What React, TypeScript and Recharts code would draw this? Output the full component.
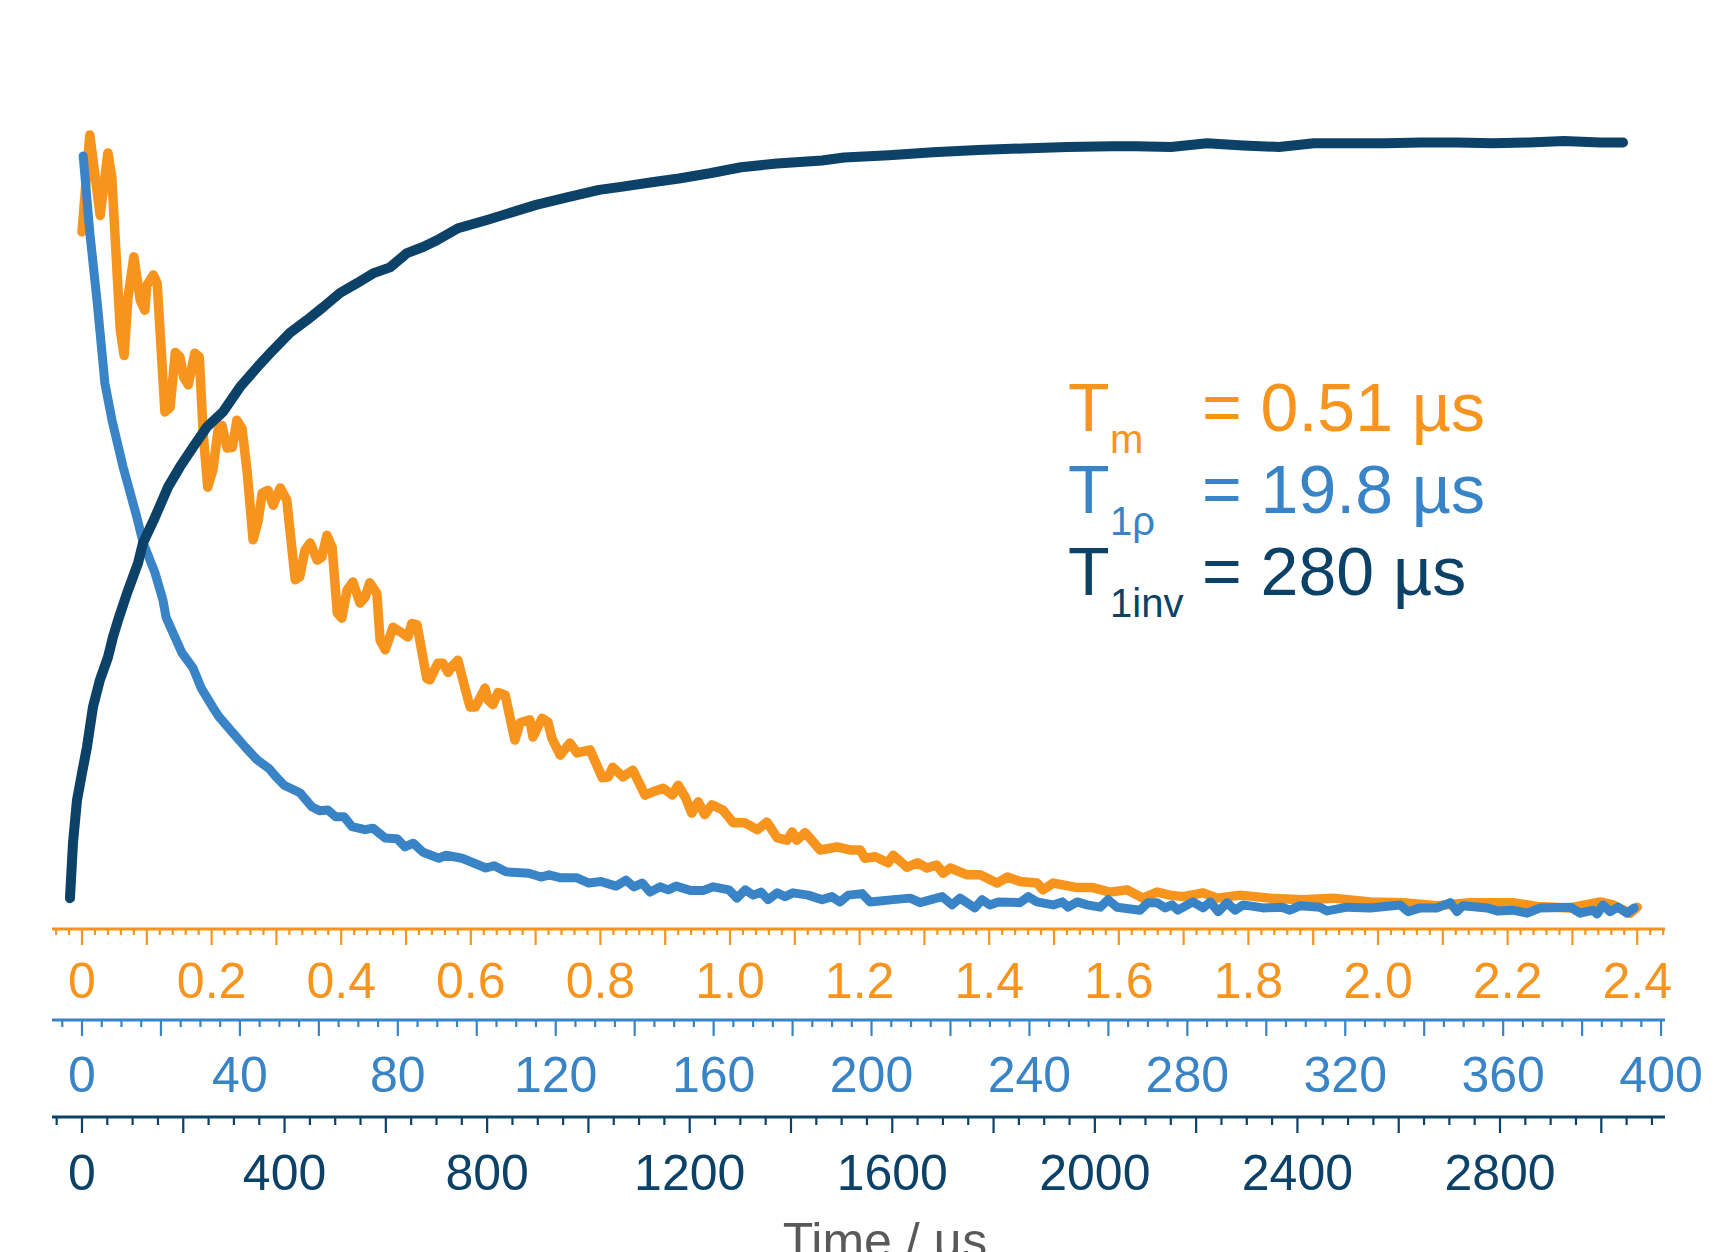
import React from "react";
import { LineChart, Line, XAxis, YAxis } from "recharts";

// page has an 8px default margin, drop it so the chart sits at 0,0
if (typeof document !== "undefined") document.body.style.margin = "0";

const ORANGE = "#F7941D";
const BLUE = "#3884C6";
const NAVY = "#0C4168";
const FONT = "'Liberation Sans', Arial, sans-serif";

// Tm decay (µs)
const tmTime = [
  0, 0.012, 0.028, 0.04, 0.046, 0.059, 0.065, 0.071, 0.08, 0.09, 0.097, 0.1, 0.11, 0.116,
  0.128, 0.136, 0.144, 0.151, 0.157, 0.164, 0.174, 0.181, 0.187, 0.194, 0.202, 0.21, 0.216,
  0.224, 0.232, 0.239, 0.247, 0.255, 0.264, 0.272, 0.278, 0.287, 0.295, 0.306, 0.316, 0.329,
  0.336, 0.344, 0.352, 0.363, 0.37, 0.378, 0.386, 0.394, 0.401, 0.409, 0.418, 0.429, 0.437,
  0.444, 0.455, 0.46, 0.468, 0.48, 0.491, 0.503, 0.509, 0.517, 0.532, 0.537, 0.549, 0.557,
  0.565, 0.573, 0.58, 0.591, 0.599, 0.607, 0.622, 0.627, 0.634, 0.642, 0.653, 0.668, 0.676,
  0.691, 0.696, 0.71, 0.719, 0.725, 0.738, 0.753, 0.764, 0.784, 0.803, 0.812, 0.819, 0.835,
  0.85, 0.869, 0.88, 0.897, 0.911, 0.92, 0.931, 0.941, 0.951, 0.961, 0.972, 0.989, 1.005,
  1.023, 1.042, 1.057, 1.073, 1.088, 1.096, 1.103, 1.116, 1.139, 1.165, 1.185, 1.201, 1.208,
  1.224, 1.244, 1.252, 1.273, 1.289, 1.304, 1.319, 1.329, 1.34, 1.366, 1.386, 1.412, 1.428,
  1.448, 1.474, 1.483, 1.499, 1.536, 1.56, 1.586, 1.613, 1.637, 1.659, 1.679, 1.699, 1.73,
  1.752, 1.787, 1.833, 1.884, 1.931, 1.988, 2.039, 2.091, 2.142, 2.208, 2.245, 2.296, 2.343,
  2.363, 2.389, 2.4,
];
const tmSignal = [
  0.898, 1.027, 0.92, 1.003, 0.971, 0.768, 0.734, 0.811, 0.865, 0.807, 0.794, 0.827, 0.841,
  0.83, 0.659, 0.665, 0.738, 0.732, 0.705, 0.695, 0.737, 0.732, 0.631, 0.559, 0.582, 0.635,
  0.641, 0.611, 0.612, 0.648, 0.637, 0.578, 0.489, 0.515, 0.551, 0.555, 0.535, 0.558, 0.542,
  0.436, 0.44, 0.475, 0.485, 0.462, 0.466, 0.495, 0.479, 0.392, 0.385, 0.422, 0.433, 0.405,
  0.413, 0.432, 0.418, 0.356, 0.343, 0.373, 0.367, 0.36, 0.378, 0.376, 0.305, 0.303, 0.325,
  0.325, 0.313, 0.323, 0.329, 0.292, 0.267, 0.267, 0.292, 0.276, 0.27, 0.286, 0.283, 0.223,
  0.246, 0.25, 0.227, 0.252, 0.247, 0.226, 0.203, 0.219, 0.206, 0.21, 0.173, 0.174, 0.187,
  0.174, 0.183, 0.15, 0.154, 0.159, 0.15, 0.163, 0.147, 0.126, 0.141, 0.124, 0.137, 0.13,
  0.113, 0.113, 0.104, 0.114, 0.093, 0.09, 0.101, 0.09, 0.1, 0.077, 0.081, 0.077, 0.077,
  0.066, 0.068, 0.06, 0.07, 0.054, 0.06, 0.053, 0.057, 0.046, 0.053, 0.044, 0.044, 0.033,
  0.041, 0.035, 0.033, 0.024, 0.033, 0.027, 0.027, 0.021, 0.024, 0.013, 0.021, 0.017, 0.015,
  0.02, 0.013, 0.017, 0.013, 0.011, 0.013, 0.008, 0.007, 0.003, 0.007, 0.007, 0.002, 0.0,
  0.008, 0.004, -0.007, 0.001,
];

// T1rho decay (µs) - blue trace
const t1rhoTime = [
  0.3, 2.0, 3.8, 5.8, 7.6, 10.4, 13.9, 15.5, 18.5, 20.5, 21.3, 25.3, 28.1, 30.2, 33.2, 34.7,
  38.3, 41.3, 44.3, 47.4, 49.2, 51.2, 55.2, 58.3, 60.3, 62.3, 64.3, 66.4, 68.4, 71.7, 73.7,
  76.8, 79.8, 81.8, 83.9, 86.4, 90.4, 92.2, 96.3, 102.3, 104.4, 107.4, 113.2, 116.3, 118.3,
  121.3, 125.4, 128.4, 131.5, 135.3, 137.8, 139.8, 141.9, 143.9, 146.4, 148.5, 150.5, 154.3,
  157.3, 159.9, 163.9, 165.9, 168.0, 170.0, 172.0, 173.8, 176.1, 178.1, 180.1, 183.9, 187.5,
  190.0, 192.0, 194.1, 197.6, 199.6, 205.5, 209.8, 212.3, 217.9, 220.4, 222.4, 226.2, 228.0,
  230.0, 232.1, 237.6, 239.7, 241.9, 246.0, 248.3, 249.8, 252.1, 254.6, 257.9, 259.9, 262.2,
  268.0, 270.0, 272.3, 274.4, 276.1, 277.6, 281.4, 284.0, 285.8, 287.8, 290.1, 292.1, 294.1,
  299.2, 304.0, 306.0, 308.6, 313.6, 315.4, 320.5, 326.3, 333.9, 335.9, 339.0, 343.3, 346.6,
  348.3, 349.8, 355.9, 358.5, 362.5, 366.1, 369.4, 377.0, 379.5, 382.8, 383.8, 385.3, 387.1,
  389.1, 391.4, 393.2,
];
const t1rhoSignal = [
  0.999, 0.896, 0.807, 0.697, 0.648, 0.586, 0.519, 0.485, 0.445, 0.409, 0.386, 0.339, 0.319,
  0.292, 0.266, 0.254, 0.232, 0.214, 0.197, 0.185, 0.174, 0.163, 0.153, 0.134, 0.129, 0.13,
  0.121, 0.121, 0.108, 0.104, 0.106, 0.093, 0.092, 0.081, 0.086, 0.074, 0.066, 0.07, 0.066,
  0.053, 0.056, 0.048, 0.046, 0.041, 0.044, 0.04, 0.04, 0.033, 0.035, 0.029, 0.037, 0.028,
  0.033, 0.021, 0.028, 0.024, 0.029, 0.023, 0.023, 0.028, 0.024, 0.013, 0.024, 0.017, 0.021,
  0.011, 0.02, 0.015, 0.02, 0.017, 0.011, 0.015, 0.008, 0.017, 0.019, 0.008, 0.011, 0.013,
  0.007, 0.015, 0.004, 0.013, 0.0, 0.011, 0.004, 0.008, 0.007, 0.015, 0.008, 0.004, 0.008,
  0.001, 0.008, 0.004, 0.001, 0.011, 0.001, -0.003, 0.007, 0.007, 0.0, 0.004, -0.003, 0.008,
  0.0, 0.008, -0.005, 0.007, -0.003, 0.004, 0.0, 0.001, -0.003, 0.003, 0.001, -0.004, 0.001,
  0.0, 0.004, -0.005, 0.0, 0.0, 0.007, -0.005, 0.003, 0.0, -0.004, -0.003, -0.007, 0.0, 0.001,
  -0.007, -0.003, -0.008, 0.004, -0.005, 0.001, -0.007, 0.0,
];

// T1 inversion recovery (µs) - navy trace
const t1invTime = [
  -23.7, -17.8, -9.9, 0, 9.9, 21.7, 35.5, 51.3, 61.2, 71.1, 88.9, 110.6, 120.5, 144.1, 169.8,
  193.5, 219.2, 246.8, 278.4, 312.0, 345.6, 377.1, 410.7, 444.3, 475.9, 509.4, 543.0, 574.6,
  608.2, 641.7, 673.3, 701.0, 742.5, 799.7, 843.2, 896.5, 957.7, 1020.9, 1064.3, 1125.5,
  1178.9, 1240.0, 1301.3, 1372.4, 1461.2, 1504.7, 1593.5, 1680.4, 1769.3, 1858.1, 1945.0,
  2033.9, 2081.2, 2150.4, 2221.4, 2292.5, 2363.6, 2432.7, 2503.8, 2574.9, 2644.0, 2715.1,
  2786.2, 2857.3, 2926.4, 2997.5, 3042.9,
];
const t1invSignal = [
  0.013, 0.086, 0.143, 0.179, 0.214, 0.267, 0.303, 0.333, 0.36, 0.382, 0.418, 0.458, 0.485,
  0.519, 0.559, 0.586, 0.612, 0.639, 0.659, 0.692, 0.718, 0.741, 0.764, 0.781, 0.798, 0.817,
  0.83, 0.843, 0.851, 0.87, 0.878, 0.887, 0.903, 0.914, 0.923, 0.934, 0.944, 0.954, 0.958,
  0.964, 0.969, 0.976, 0.984, 0.989, 0.993, 0.997, 1.0, 1.004, 1.007, 1.009, 1.011, 1.012,
  1.012, 1.011, 1.016, 1.013, 1.011, 1.016, 1.016, 1.016, 1.017, 1.017, 1.016, 1.017, 1.019,
  1.017, 1.017,
];

// tick labels for the three time axes
const tmLabelValues = [0, 0.2, 0.4, 0.6, 0.8, 1.0, 1.2, 1.4, 1.6, 1.8, 2.0, 2.2, 2.4];
const tmLabels = ["0", "0.2", "0.4", "0.6", "0.8", "1.0", "1.2", "1.4", "1.6", "1.8", "2.0", "2.2", "2.4"];
const t1rhoLabelValues = [0, 40, 80, 120, 160, 200, 240, 280, 320, 360, 400];
const t1rhoLabels = ["0", "40", "80", "120", "160", "200", "240", "280", "320", "360", "400"];
const t1invLabelValues = [0, 400, 800, 1200, 1600, 2000, 2400, 2800];
const t1invLabels = ["0", "400", "800", "1200", "1600", "2000", "2400", "2800"];

const zip = (xs: number[], ys: number[]) => xs.map((t, i) => ({ t, v: ys[i] }));
const tmData = zip(tmTime, tmSignal);
const t1rhoData = zip(t1rhoTime, t1rhoSignal);
const t1invData = zip(t1invTime, t1invSignal);

// minor tick positions
const steps = (from: number, to: number, step: number) => {
  const out: number[] = [];
  const n = Math.round((to - from) / step);
  for (let i = 0; i <= n; i++) out.push(Number((from + i * step).toFixed(4)));
  return out;
};
const tmTicks = steps(-0.04, 2.44, 0.02);
const t1rhoTicks = steps(-5, 400, 5);
const t1invTicks = steps(-50, 3100, 50);

type TickCfg = {
  color: string;
  labelValues: number[];
  labels: string[];
  major: number;
  minorLen: number;
  majorLen: number;
  dy: number;
};

function makeTick(cfg: TickCfg) {
  return (props: any) => {
    const { x, y, payload } = props;
    const val = payload.value as number;
    const r = val / cfg.major;
    const isMajor = Math.abs(r - Math.round(r)) < 1e-6;
    const idx = cfg.labelValues.findIndex((lv) => Math.abs(lv - val) < 1e-6);
    return (
      <g>
        <line x1={x} x2={x} y1={y} y2={y + (isMajor ? cfg.majorLen : cfg.minorLen)} stroke={cfg.color} strokeWidth={2.2} />
        {idx >= 0 && (
          <text x={x} y={y + cfg.dy} textAnchor="middle" fontSize={50} fontFamily={FONT} fill={cfg.color}>
            {cfg.labels[idx]}
          </text>
        )}
      </g>
    );
  };
}

const tmTick = makeTick({ color: ORANGE, labelValues: tmLabelValues, labels: tmLabels, major: 0.1, minorLen: 6, majorLen: 16, dy: 69 });
const t1rhoTick = makeTick({ color: BLUE, labelValues: t1rhoLabelValues, labels: t1rhoLabels, major: 20, minorLen: 7, majorLen: 16, dy: 72 });
const t1invTick = makeTick({ color: NAVY, labelValues: t1invLabelValues, labels: t1invLabels, major: 200, minorLen: 8, majorLen: 16, dy: 73 });

// axis ids: bottom axes are stacked in id order, first one sits on the plot
const TM_AXIS = "ax1_tm";
const RHO_AXIS = "ax2_rho";
const INV_AXIS = "ax3_inv";

export default function App() {
  return (
    <div style={{ position: "relative", width: 1736, height: 1252, background: "#fff", overflow: "hidden" }}>
      <LineChart width={1736} height={1252} margin={{ top: 95, right: 71, bottom: 0, left: 52 }}>
        <XAxis
          xAxisId={TM_AXIS}
          type="number"
          dataKey="t"
          orientation="bottom"
          domain={[-0.0463, 2.4429]}
          allowDataOverflow
          ticks={tmTicks}
          interval={0}
          height={91}
          tickSize={0}
          tickMargin={0}
          tickLine={false}
          axisLine={{ stroke: ORANGE, strokeWidth: 3 }}
          tick={tmTick}
        />
        <XAxis
          xAxisId={RHO_AXIS}
          type="number"
          dataKey="t"
          orientation="bottom"
          domain={[-7.6, 401]}
          allowDataOverflow
          ticks={t1rhoTicks}
          interval={0}
          height={97}
          tickSize={0}
          tickMargin={0}
          tickLine={false}
          axisLine={{ stroke: BLUE, strokeWidth: 3 }}
          tick={t1rhoTick}
        />
        <XAxis
          xAxisId={INV_AXIS}
          type="number"
          dataKey="t"
          orientation="bottom"
          domain={[-59.2, 3125.8]}
          allowDataOverflow
          ticks={t1invTicks}
          interval={0}
          height={135}
          tickSize={0}
          tickMargin={0}
          tickLine={false}
          axisLine={{ stroke: NAVY, strokeWidth: 3 }}
          tick={t1invTick}
        />
        <YAxis hide type="number" domain={[-0.028, 1.08]} allowDataOverflow />
        <Line xAxisId={TM_AXIS} data={tmData} dataKey="v" type="linear" stroke={ORANGE} strokeWidth={9.5} dot={false} strokeLinejoin="round" strokeLinecap="round" isAnimationActive={false} />
        <Line xAxisId={RHO_AXIS} data={t1rhoData} dataKey="v" type="linear" stroke={BLUE} strokeWidth={9} dot={false} strokeLinejoin="round" strokeLinecap="round" isAnimationActive={false} />
        <Line xAxisId={INV_AXIS} data={t1invData} dataKey="v" type="linear" stroke={NAVY} strokeWidth={10} dot={false} strokeLinejoin="round" strokeLinecap="round" isAnimationActive={false} />
      </LineChart>

      {/* fitted time constants + axis title */}
      <svg width={1736} height={1252} style={{ position: "absolute", left: 0, top: 0, pointerEvents: "none" }} fontFamily={FONT}>
        <g fill={ORANGE}>
          <text x={1068} y={431} fontSize={68}>T</text>
          <text x={1110} y={453} fontSize={40}>m</text>
          <text x={1202} y={431} fontSize={68}>= 0.51 µs</text>
        </g>
        <g fill={BLUE}>
          <text x={1068} y={513} fontSize={68}>T</text>
          <text x={1110} y={535} fontSize={40}>1ρ</text>
          <text x={1202} y={513} fontSize={68}>= 19.8 µs</text>
        </g>
        <g fill={NAVY}>
          <text x={1068} y={595} fontSize={68}>T</text>
          <text x={1110} y={617} fontSize={40}>1inv</text>
          <text x={1202} y={595} fontSize={68}>= 280 µs</text>
        </g>
        <text x={885} y={1258} fontSize={50} textAnchor="middle" fill="#595959">Time / µs</text>
      </svg>
    </div>
  );
}
